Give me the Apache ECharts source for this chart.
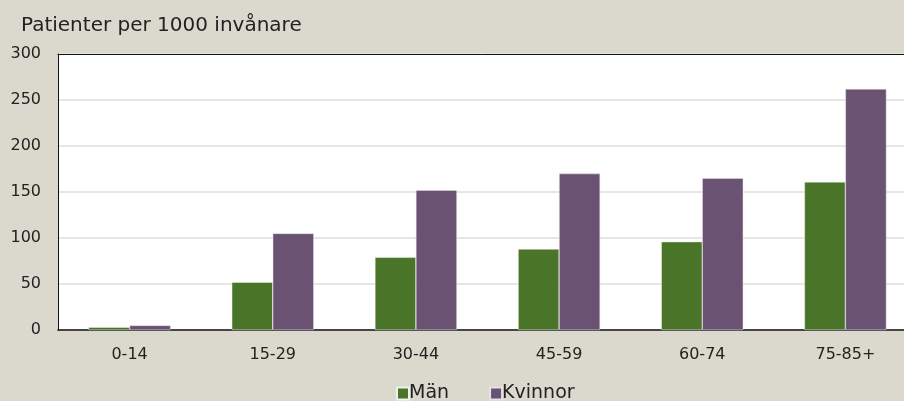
<!DOCTYPE html>
<html><head><meta charset="utf-8">
<script src="https://cdn.jsdelivr.net/npm/echarts@6/dist/echarts.min.js"></script>
<style>html,body{margin:0;padding:0;background:#dbd9cd;}#c{width:904px;height:401px;}</style>
</head><body><div id="c"></div>
<script>
var titleText = 'Patienter per 1000 invånare';
var categories = ['0-14', '15-29', '30-44', '45-59', '60-74', '75-85+'];
var man = [3, 52, 79, 88, 96, 161];
var kvinnor = [5, 105, 152, 170, 165, 262];
var seriesNames = ['Män', 'Kvinnor'];
var yTicks = [0, 50, 100, 150, 200, 250, 300];

var font = '"DejaVu Sans", sans-serif';
var chart = echarts.init(document.getElementById('c'), null, {renderer: 'canvas'});
chart.setOption({
  backgroundColor: '#dbd9cd',
  animation: false,
  title: {text: titleText, left: 21, top: 16, padding: 0, textStyle: {fontFamily: font, fontSize: 20, fontWeight: 'normal', color: '#222'}},
  legend: {data: seriesNames, top: 384, left: 396, padding: 0, itemWidth: 12, itemHeight: 12, itemGap: 40, icon: 'rect',
    textStyle: {fontFamily: font, fontSize: 19, color: '#222', padding: [0,0,0,-5]}},
  grid: {left: 58, top: 54, height: 276, width: 859, outerBoundsMode: 'none', containLabel: false, show: true, backgroundColor: '#ffffff', borderWidth: 0},
  xAxis: [
    {type: 'category', data: categories,
      axisLine: {lineStyle: {color: '#111', width: 1.5}},
      axisTick: {inside: true, length: 6, lineStyle: {color: '#333'}},
      axisLabel: {fontFamily: font, fontSize: 16, color: '#222', margin: 17}},
    {type: 'category', data: categories, position: 'top',
      axisLine: {show: true, lineStyle: {color: '#111', width: 1}},
      axisTick: {show: false}, axisLabel: {show: false}}
  ],
  yAxis: {type: 'value', min: yTicks[0], max: yTicks[yTicks.length-1], interval: 50,
    axisLine: {show: true, lineStyle: {color: '#111'}}, axisTick: {show: false},
    axisLabel: {fontFamily: font, fontSize: 16, color: '#222', margin: 17},
    splitLine: {lineStyle: {color: '#e8e6e0', width: 2}}},
  series: [
    {name: seriesNames[0], type: 'bar', data: man, barWidth: 41, barGap: '0%', itemStyle: {color: '#4a7529', borderColor: '#eef0ea', borderWidth: 0.5}},
    {name: seriesNames[1], type: 'bar', data: kvinnor, barWidth: 41, barGap: '0%', itemStyle: {color: '#6a5272', borderColor: '#e8e0ea', borderWidth: 0.5}}
  ]
});
</script></body></html>
